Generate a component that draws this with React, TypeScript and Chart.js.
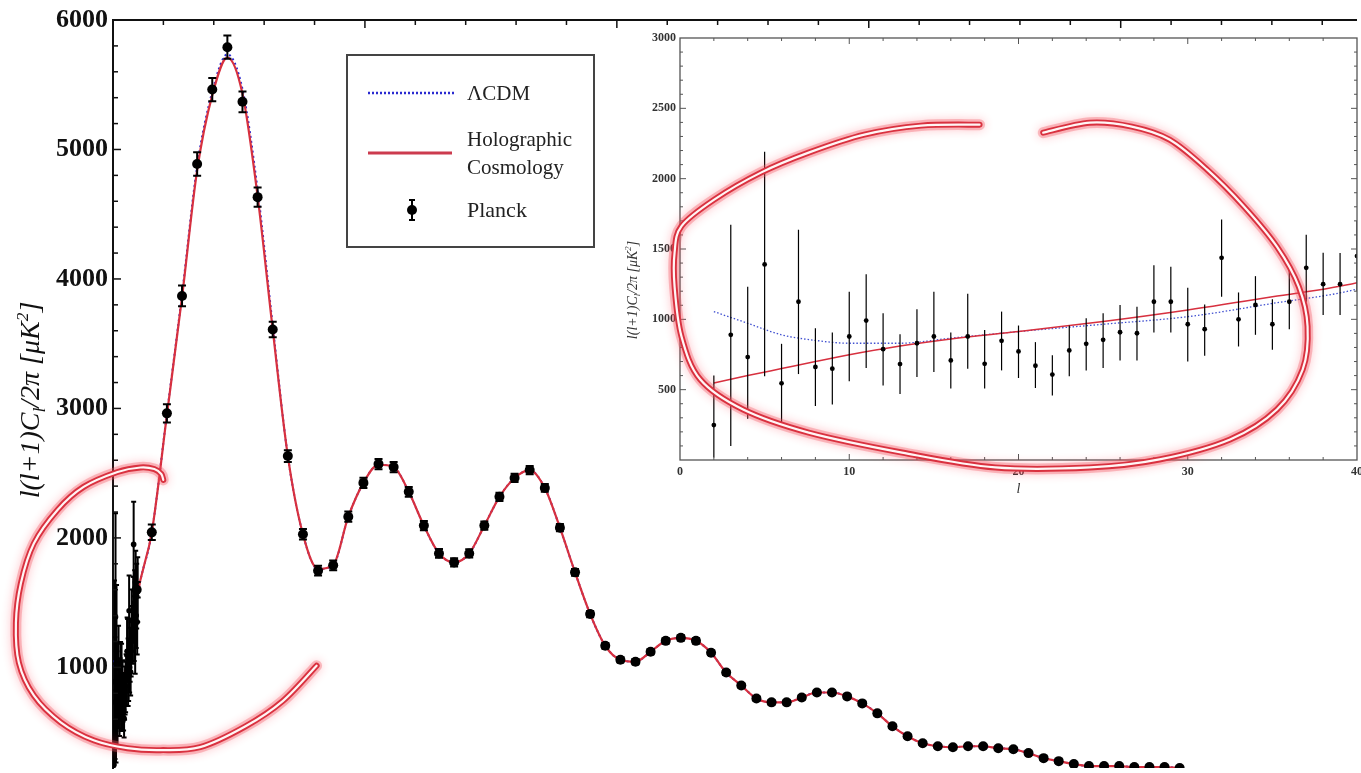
import React, { useEffect, useRef } from "react";
import { Chart, registerables } from "chart.js";

Chart.register(...registerables);

const SERIF = '"Liberation Serif", "Times New Roman", serif';
const RED = "#d7303f";
const BLUE = "#2a2ad0";

// ---------- Main plot data ----------
// Binned Planck points (multipole l, D_l in μK², symmetric error)
const binL = [47, 77, 107, 137, 167, 197, 227, 257, 287, 317, 347, 377, 407, 437, 467, 497, 527, 557, 587, 617,
  647, 677, 707, 737, 767, 797, 827, 857, 887, 917, 947, 977, 1007, 1037, 1067, 1097, 1127, 1157, 1187, 1217,
  1247, 1277, 1307, 1337, 1367, 1397, 1427, 1457, 1487, 1517, 1547, 1577, 1607, 1637, 1667, 1697, 1727, 1757,
  1787, 1817, 1847, 1877, 1907, 1937, 1967, 1997, 2027, 2057, 2087, 2117];
const binV = [1600, 2043, 2962, 3869, 4888, 5463, 5790, 5368, 4632, 3609, 2632, 2028, 1747, 1788, 2164, 2425,
  2570, 2547, 2356, 2095, 1880, 1811, 1880, 2095, 2317, 2463, 2524, 2386, 2079, 1734, 1412, 1167, 1059, 1044,
  1121, 1205, 1228, 1205, 1113, 960, 860, 760, 730, 730, 768, 806, 806, 776, 722, 645, 545, 468, 414, 391, 383,
  391, 391, 376, 368, 338, 299, 276, 253, 238, 238, 238, 230, 230, 230, 223];
const binErr = [60, 60, 70, 80, 90, 90, 90, 80, 75, 60, 45, 40, 38, 38, 40, 40, 40, 40, 38, 36, 34, 32, 32, 32,
  32, 32, 32, 30, 28, 26, 24, 22, 20, 20, 20, 20, 20, 20, 18, 18, 16, 16, 16, 16, 16, 16, 16, 15, 15, 14, 14, 13,
  13, 12, 12, 12, 12, 12, 12, 12, 12, 12, 12, 12, 12, 12, 12, 12, 12, 12];

// Unbinned low-l Planck points (l = 2..49) with lower / upper error limits
const lowL = [2, 3, 4, 5, 6, 7, 8, 9, 10, 11, 12, 13, 14, 15, 16, 17, 18, 19, 20, 21, 22, 23, 24, 25, 26, 27, 28,
  29, 30, 31, 32, 33, 34, 35, 36, 37, 38, 39, 40, 41, 42, 43, 44, 45, 46, 47, 48, 49];
const lowV = [248, 890, 732, 1390, 545, 1125, 661, 649, 878, 991, 788, 682, 830, 878, 708, 878, 684, 847, 772,
  670, 607, 779, 826, 854, 908, 901, 1125, 1125, 965, 930, 1437, 1000, 1102, 965, 1125, 1366, 1250, 1250,
  1450, 1950, 1300, 1500, 1200, 1650, 1400, 1550, 1350, 1600];
const lowTop = [600, 1672, 1232, 2191, 826, 1637, 937, 906, 1196, 1321, 1043, 894, 1071, 1196, 906, 1182, 925,
  1055, 956, 838, 744, 956, 1007, 1043, 1102, 1090, 1385, 1373, 1224, 1106, 1710, 1191, 1307, 1142, 1349, 1602,
  1474, 1472, 1700, 2280, 1550, 1750, 1450, 1900, 1650, 1800, 1600, 1850];
const lowBottom = [17, 100, 293, 595, 265, 611, 383, 394, 560, 654, 529, 470, 590, 625, 508, 649, 508, 637, 583,
  512, 458, 595, 637, 654, 708, 708, 906, 906, 701, 741, 1161, 807, 890, 783, 930, 1125, 1031, 1031,
  1200, 1700, 1050, 1250, 950, 1400, 1150, 1300, 1100, 1350];

// Model curves sampled at these multipoles
const modelL = [2, 4, 6, 8, 10, 13, 16, 20, 25, 30, 35, 40, 47, 77, 107, 137, 167, 197, 227, 257, 287, 317, 347,
  377, 407, 437, 467, 497, 527, 557, 587, 617, 647, 677, 707, 737, 767, 797, 827, 857, 887, 917, 947, 977, 1007,
  1037, 1067, 1097, 1127, 1157, 1187, 1217, 1247, 1277, 1307, 1337, 1367, 1397, 1427, 1457, 1487, 1517, 1547,
  1577, 1607, 1637, 1667, 1697, 1727, 1757, 1787, 1817, 1847, 1877, 1907, 1937, 1967, 1997, 2027, 2057, 2087, 2117];
const holoV = [548, 600, 650, 700, 748, 810, 860, 913, 984, 1066, 1160, 1260, 1520, 2043, 2950, 3860, 4840, 5420,
  5710, 5430, 4640, 3610, 2632, 2028, 1760, 1790, 2164, 2425, 2565, 2547, 2356, 2095, 1880, 1811, 1880, 2095,
  2317, 2463, 2524, 2386, 2079, 1734, 1412, 1167, 1059, 1044, 1121, 1205, 1228, 1205, 1113, 960, 860, 760, 730,
  730, 768, 806, 806, 776, 722, 645, 545, 468, 414, 391, 383, 391, 391, 376, 368, 338, 299, 276, 253, 238, 238,
  238, 230, 230, 230, 223];
const lcdmV = [1055, 972, 890, 850, 830, 830, 866, 913, 965, 1019, 1113, 1215, 1500, 2043, 2960, 3880, 4870, 5445,
  5735, 5465, 4690, 3640, 2632, 2028, 1760, 1790, 2164, 2425, 2565, 2547, 2356, 2095, 1880, 1811, 1880, 2095,
  2317, 2463, 2524, 2386, 2079, 1734, 1412, 1167, 1059, 1044, 1121, 1205, 1228, 1205, 1113, 960, 860, 760, 730,
  730, 768, 806, 806, 776, 722, 645, 545, 468, 414, 391, 383, 391, 391, 376, 368, 338, 299, 276, 253, 238, 238,
  238, 230, 230, 230, 223];

// Tick labels
const yTickLabels = [1000, 2000, 3000, 4000, 5000, 6000];
const insetYTicks = [500, 1000, 1500, 2000, 2500, 3000];
const insetXTicks = [0, 10, 20, 30, 40];

// Hand-drawn highlight loops (in data coordinates of each plot)
const mainLoopL = [99.8, 95.8, 82, 54.3, 9, -58.3, -109.7, -157.1, -182.8, -192.7, -186.8, -157.1, -103.8, -38.5,
  28.7, 93.9, 172.9, 263, 336.9, 404.1];
const mainLoopV = [2448, 2494, 2532, 2544, 2509, 2394, 2218, 1957, 1650, 1343, 1036, 783, 576, 437, 376, 361, 384,
  545, 740, 1013];
const insetLoopL = [17.7, 14.24, 10.89, 7.6, 4.78, 2.02, 0.09, -0.32, -0.32, 0.09, 1.2, 3.73, 7.6, 13.12, 18.64,
  24.22, 28.33, 32.5, 35.27, 36.79, 37.08, 36.56, 35.27, 33.33, 31.15, 28.92, 26.69, 24.22, 21.46];
const insetLoopV = [2384, 2377, 2313, 2185, 2043, 1851, 1663, 1474, 1233, 877, 572, 359, 195, 53, -53, -53, 4, 146,
  359, 643, 949, 1233, 1517, 1801, 2064, 2278, 2370, 2398, 2327];

// ---------- helpers ----------
function smoothPath(ctx: CanvasRenderingContext2D, pts: number[][]) {
  ctx.beginPath();
  ctx.moveTo(pts[0][0], pts[0][1]);
  for (let i = 0; i < pts.length - 1; i++) {
    const p0 = pts[Math.max(0, i - 1)];
    const p1 = pts[i];
    const p2 = pts[i + 1];
    const p3 = pts[Math.min(pts.length - 1, i + 2)];
    ctx.bezierCurveTo(
      p1[0] + (p2[0] - p0[0]) / 6, p1[1] + (p2[1] - p0[1]) / 6,
      p2[0] - (p3[0] - p1[0]) / 6, p2[1] - (p3[1] - p1[1]) / 6,
      p2[0], p2[1]
    );
  }
}

function drawGlowLoop(chart: any, ls: number[], vs: number[]) {
  const { ctx, scales } = chart;
  const pts = ls.map((l, i) => [scales.x.getPixelForValue(l), scales.y.getPixelForValue(vs[i])]);
  ctx.save();
  ctx.lineCap = "round";
  ctx.lineJoin = "round";
  ctx.shadowColor = "rgba(255,40,60,0.7)";
  ctx.shadowBlur = 10;
  ctx.strokeStyle = "rgba(240,90,100,0.35)";
  ctx.lineWidth = 11;
  smoothPath(ctx, pts);
  ctx.stroke();
  ctx.shadowBlur = 0;
  ctx.shadowColor = "transparent";
  ctx.strokeStyle = "#d9313f";
  ctx.lineWidth = 6;
  smoothPath(ctx, pts);
  ctx.stroke();
  ctx.strokeStyle = "#fff5f5";
  ctx.lineWidth = 2.2;
  smoothPath(ctx, pts);
  ctx.stroke();
  ctx.restore();
}

type Part = { t: string; s: number; dy: number };
const titleParts: Part[] = [
  { t: "l(l+1)C", s: 1, dy: 0 },
  { t: "l", s: 0.62, dy: 0.22 },
  { t: "/2π [μK", s: 1, dy: 0 },
  { t: "2", s: 0.62, dy: -0.4 },
  { t: "]", s: 1, dy: 0 },
];

function drawRichText(ctx: CanvasRenderingContext2D, parts: Part[], cx: number, cy: number, size: number,
  color: string) {
  ctx.save();
  ctx.translate(cx, cy);
  ctx.rotate(-Math.PI / 2);
  ctx.textAlign = "left";
  ctx.textBaseline = "alphabetic";
  ctx.fillStyle = color;
  let total = 0;
  const widths = parts.map((p) => {
    ctx.font = `italic ${p.s * size}px ${SERIF}`;
    const w = ctx.measureText(p.t).width;
    total += w;
    return w;
  });
  let x = -total / 2;
  parts.forEach((p, i) => {
    ctx.font = `italic ${p.s * size}px ${SERIF}`;
    ctx.fillText(p.t, x, size * 0.33 + p.dy * size);
    x += widths[i];
  });
  ctx.restore();
}

const errorBarPlugin = {
  id: "errorBars",
  beforeDatasetDraw(chart: any, args: any) {
    const ds = chart.data.datasets[args.index];
    if (!ds.errLow) return;
    const { ctx, chartArea, scales } = chart;
    ctx.save();
    ctx.beginPath();
    ctx.rect(chartArea.left, chartArea.top, chartArea.right - chartArea.left, chartArea.bottom - chartArea.top);
    ctx.clip();
    ctx.strokeStyle = "#000";
    ctx.lineWidth = ds.errWidth;
    ds.data.forEach((p: any, i: number) => {
      const px = scales.x.getPixelForValue(p.x);
      const y1 = scales.y.getPixelForValue(ds.errLow[i]);
      const y2 = scales.y.getPixelForValue(ds.errHigh[i]);
      ctx.beginPath();
      ctx.moveTo(px, y1);
      ctx.lineTo(px, y2);
      if (ds.capW) {
        ctx.moveTo(px - ds.capW, y1);
        ctx.lineTo(px + ds.capW, y1);
        ctx.moveTo(px - ds.capW, y2);
        ctx.lineTo(px + ds.capW, y2);
      }
      ctx.stroke();
    });
    ctx.restore();
  },
};

const mainDecor = {
  id: "mainDecor",
  afterDraw(chart: any) {
    const { ctx, chartArea, scales } = chart;
    const { x, y } = scales;
    ctx.save();
    ctx.strokeStyle = "#111";
    ctx.lineWidth = 1.5;
    // inward ticks on left axis
    for (let v = 400; v < 6000; v += 200) {
      const py = y.getPixelForValue(v);
      if (py > chartArea.bottom) continue;
      const len = v % 1000 === 0 ? 8 : 5;
      ctx.beginPath();
      ctx.moveTo(chartArea.left, py);
      ctx.lineTo(chartArea.left + len, py);
      ctx.stroke();
    }
    // inward ticks on top axis
    for (let l = 100; l <= 2400; l += 100) {
      const px = x.getPixelForValue(l);
      const len = l % 500 === 0 ? 8 : 5;
      ctx.beginPath();
      ctx.moveTo(px, chartArea.top);
      ctx.lineTo(px, chartArea.top + len);
      ctx.stroke();
    }
    ctx.restore();

    // y-axis title
    drawRichText(ctx, titleParts, 30, 400, 28, "#111");

    // legend box
    ctx.save();
    ctx.fillStyle = "#fff";
    ctx.fillRect(347, 55, 247, 192);
    ctx.strokeStyle = "#444";
    ctx.lineWidth = 2;
    ctx.strokeRect(347, 55, 247, 192);
    ctx.lineWidth = 2.5;
    ctx.strokeStyle = BLUE;
    ctx.setLineDash([2, 2]);
    ctx.beginPath();
    ctx.moveTo(368, 93);
    ctx.lineTo(455, 93);
    ctx.stroke();
    ctx.setLineDash([]);
    ctx.strokeStyle = "#cc3b4e";
    ctx.lineWidth = 3.2;
    ctx.beginPath();
    ctx.moveTo(368, 153);
    ctx.lineTo(452, 153);
    ctx.stroke();
    // planck marker
    ctx.strokeStyle = "#000";
    ctx.lineWidth = 2;
    ctx.beginPath();
    ctx.moveTo(412, 200);
    ctx.lineTo(412, 220);
    ctx.moveTo(409, 200);
    ctx.lineTo(415, 200);
    ctx.moveTo(409, 220);
    ctx.lineTo(415, 220);
    ctx.stroke();
    ctx.fillStyle = "#000";
    ctx.beginPath();
    ctx.arc(412, 210, 5, 0, Math.PI * 2);
    ctx.fill();
    ctx.fillStyle = "#222";
    ctx.font = `21px ${SERIF}`;
    ctx.textAlign = "left";
    ctx.textBaseline = "middle";
    ctx.fillText("ΛCDM", 467, 94);
    ctx.fillText("Holographic", 467, 140);
    ctx.fillText("Cosmology", 467, 168);
    ctx.font = `22px ${SERIF}`;
    ctx.fillText("Planck", 467, 211);
    ctx.restore();

    drawGlowLoop(chart, mainLoopL, mainLoopV);
  },
};

const insetDecor = {
  id: "insetDecor",
  beforeDraw(chart: any) {
    const { ctx, chartArea } = chart;
    ctx.save();
    ctx.fillStyle = "#fff";
    ctx.fillRect(chartArea.left, chartArea.top, chartArea.right - chartArea.left, chartArea.bottom - chartArea.top);
    ctx.restore();
  },
  afterDraw(chart: any) {
    const { ctx, chartArea, scales } = chart;
    const { x, y } = scales;
    const { left, right, top, bottom } = chartArea;
    ctx.save();
    ctx.strokeStyle = "#555";
    ctx.lineWidth = 1.3;
    ctx.strokeRect(left, top, right - left, bottom - top);
    ctx.lineWidth = 1;
    for (let v = 100; v < 3000; v += 100) {
      const py = y.getPixelForValue(v);
      const len = v % 500 === 0 ? 6 : 3;
      ctx.beginPath();
      ctx.moveTo(left, py);
      ctx.lineTo(left + len, py);
      ctx.moveTo(right, py);
      ctx.lineTo(right - len, py);
      ctx.stroke();
    }
    for (let l = 2; l < 40; l += 2) {
      const px = x.getPixelForValue(l);
      const len = l % 10 === 0 ? 6 : 3;
      ctx.beginPath();
      ctx.moveTo(px, top);
      ctx.lineTo(px, top + len);
      ctx.moveTo(px, bottom);
      ctx.lineTo(px, bottom - len);
      ctx.stroke();
    }
    ctx.restore();
    drawRichText(ctx, titleParts, 32, 265, 14, "#333");
    drawGlowLoop(chart, insetLoopL, insetLoopV);
  },
};

export default function App() {
  const mainRef = useRef<HTMLCanvasElement | null>(null);
  const insetRef = useRef<HTMLCanvasElement | null>(null);

  useEffect(() => {
    const pts = (ls: number[], vs: number[]) => ls.map((l, i) => ({ x: l, y: vs[i] }));

    const main = new Chart(mainRef.current as HTMLCanvasElement, {
      type: "line",
      data: {
        datasets: [
          {
            label: "ΛCDM", data: pts(modelL, lcdmV), borderColor: BLUE, borderWidth: 2, borderDash: [2, 3],
            pointRadius: 0, cubicInterpolationMode: "monotone", fill: false, order: 3,
          },
          {
            label: "Holographic Cosmology", data: pts(modelL, holoV), borderColor: RED, borderWidth: 2.2,
            pointRadius: 0, cubicInterpolationMode: "monotone", fill: false, order: 2,
          },
          {
            label: "Planck low-l", data: pts(lowL, lowV), showLine: false, pointRadius: 2.8,
            pointBackgroundColor: "#000", pointBorderWidth: 0, order: 1,
            errLow: lowBottom, errHigh: lowTop, errWidth: 2, capW: 2.5,
          },
          {
            label: "Planck", data: pts(binL, binV), showLine: false, pointRadius: 5,
            pointBackgroundColor: "#000", pointBorderWidth: 0, order: 0,
            errLow: binV.map((v, i) => v - binErr[i]), errHigh: binV.map((v, i) => v + binErr[i]),
            errWidth: 2, capW: 4,
          },
        ] as any,
      },
      options: {
        responsive: false,
        animation: false,
        events: [],
        layout: { padding: 0 },
        plugins: { legend: { display: false }, tooltip: { enabled: false }, title: { display: false } },
        scales: {
          x: {
            type: "linear", position: "top", min: 0, max: 2467,
            ticks: { display: false }, grid: { display: false, drawTicks: false },
            border: { display: true, color: "#111", width: 2 },
            afterFit: (s: any) => { s.height = 20; s.paddingLeft = 0; s.paddingRight = 0; },
          },
          y: {
            type: "linear", min: 223, max: 6000,
            afterBuildTicks: (s: any) => { s.ticks = yTickLabels.map((v) => ({ value: v })); },
            ticks: {
              callback: (v: any) => String(v), color: "#111", padding: 5,
              font: { family: SERIF, size: 26, weight: "bold" },
            },
            grid: { display: false, drawTicks: false },
            border: { display: true, color: "#111", width: 2 },
            afterFit: (s: any) => { s.width = 113; s.paddingTop = 0; s.paddingBottom = 0; },
          },
        },
      } as any,
      plugins: [errorBarPlugin, mainDecor],
    });

    const inset = new Chart(insetRef.current as HTMLCanvasElement, {
      type: "line",
      data: {
        datasets: [
          {
            label: "ΛCDM", data: pts(modelL, lcdmV), borderColor: "#4050d0", borderWidth: 1.3, borderDash: [1.5, 2],
            pointRadius: 0, cubicInterpolationMode: "monotone", fill: false, order: 3,
          },
          {
            label: "Holographic Cosmology", data: pts(modelL, holoV), borderColor: RED, borderWidth: 1.5,
            pointRadius: 0, cubicInterpolationMode: "monotone", fill: false, order: 2,
          },
          {
            label: "Planck", data: pts(lowL, lowV), showLine: false, pointRadius: 2.4,
            pointBackgroundColor: "#000", pointBorderWidth: 0, order: 0,
            errLow: lowBottom, errHigh: lowTop, errWidth: 1.2, capW: 0,
          },
        ] as any,
      },
      options: {
        responsive: false,
        animation: false,
        events: [],
        layout: { padding: { top: 13, right: 1, left: 0, bottom: 0 } },
        plugins: { legend: { display: false }, tooltip: { enabled: false }, title: { display: false } },
        scales: {
          x: {
            type: "linear", min: 0, max: 40,
            afterBuildTicks: (s: any) => { s.ticks = insetXTicks.map((v) => ({ value: v })); },
            ticks: {
              callback: (v: any) => String(v), color: "#333", padding: 5, maxRotation: 0, autoSkip: false,
              font: { family: SERIF, size: 12, weight: "bold" },
            },
            grid: { display: false, drawTicks: false },
            border: { display: false },
            title: {
              display: true, text: "l", color: "#333",
              font: { family: SERIF, size: 14, style: "italic" }, padding: { top: 0, bottom: 17 },
            },
            afterFit: (s: any) => { s.height = 55; s.paddingLeft = 0; s.paddingRight = 0; },
          },
          y: {
            type: "linear", min: 0, max: 3000,
            afterBuildTicks: (s: any) => { s.ticks = insetYTicks.map((v) => ({ value: v })); },
            ticks: {
              callback: (v: any) => String(v), color: "#333", padding: 4,
              font: { family: SERIF, size: 12, weight: "bold" },
            },
            grid: { display: false, drawTicks: false },
            border: { display: false },
            afterFit: (s: any) => { s.width = 80; s.paddingBottom = 0; },
          },
        },
      } as any,
      plugins: [insetDecor, errorBarPlugin],
    });

    return () => {
      main.destroy();
      inset.destroy();
    };
  }, []);

  return (
    <div style={{ position: "fixed", left: 0, top: 0, width: 1361, height: 773, overflow: "hidden", background: "#fff" }}>
      <canvas ref={mainRef} width={1361} height={773} style={{ position: "absolute", left: 0, top: 0 }} />
      <canvas ref={insetRef} width={761} height={490} style={{ position: "absolute", left: 600, top: 25 }} />
    </div>
  );
}
